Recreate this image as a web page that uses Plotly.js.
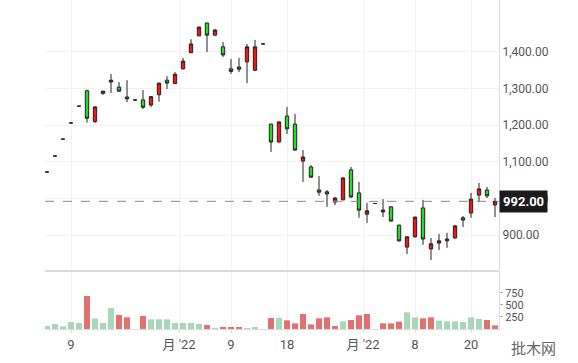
<!DOCTYPE html>
<html><head><meta charset="utf-8">
<script src="https://cdn.plot.ly/plotly-3.0.1.min.js"></script>
<style>html,body{margin:0;padding:0;background:#fff}#chart{width:578px;height:363px}</style>
</head><body><div id="chart"></div>
<script>
// trading-day index for each candle
const days = Array.from({length: 57}, (_, i) => i);
const opens = [1072,1116,1162,1206,1252,1294,1210,1287,1318,1304,1277,1269,1269,1255,1283,1323,1314,1354,1398,1444,1479,1446,1414,1354,1359,1373,1350,1422,1203,1154,1225,1203,1102,1086,1023,1018,990,996,1078,1015,957,986,963,977,927,867,895,974,862,878,884,892,947,960,1009,1023,982];
const highs = [1072,1116,1162,1206,1252,1296,1251,1294,1340,1318,1323,1269,1296,1279,1316,1334,1345,1384,1435,1469,1480,1463,1427,1381,1384,1422,1433,1422,1204,1210,1250,1231,1132,1091,1061,1023,1004,1057,1086,1045,988,986,998,979,928,896,950,996,892,903,906,926,952,1015,1042,1031,1001];
const lows = [1072,1116,1162,1206,1252,1207,1206,1283,1288,1291,1263,1269,1244,1250,1264,1299,1313,1352,1397,1443,1400,1445,1386,1340,1345,1315,1348,1422,1127,1153,1176,1131,1045,1057,1007,977,982,995,1001,947,933,986,949,937,882,848,893,873,832,859,865,890,922,947,990,1001,949];
const closes = [1072,1116,1162,1206,1252,1219,1250,1293,1323,1293,1272,1269,1249,1278,1315,1315,1339,1375,1422,1468,1446,1460,1392,1347,1353,1414,1414,1422,1154,1209,1190,1132,1113,1058,1017,1012,1001,1056,1004,968,966,986,968,938,884,895,949,889,876,884,889,925,941,998,1026,1007,992];
const volumes = [62,104,55,146,125,688,222,125,437,292,243,0,271,201,201,201,125,125,125,104,83,21,42,42,42,21,42,0,229,229,180,118,312,97,222,243,62,160,188,285,312,0,118,118,153,347,243,222,243,174,160,160,146,243,208,188,76];
// 1 = green volume bar, 0 = red volume bar
const volUp = [1,1,1,1,1,0,1,1,1,0,0,1,0,1,1,1,1,1,1,1,0,1,0,0,0,1,1,1,0,1,0,0,0,0,0,0,0,1,0,0,0,1,0,0,0,1,1,0,0,1,1,1,1,1,1,0,0];
const tickPos = [3, 16.5, 23, 30, 39.5, 46, 53];
const tickText = ['9', "月 '22", '9', '18', "月 '22", '8', '20'];
const priceTicks = [900, 1000, 1100, 1200, 1300, 1400];
const volTicks = [250, 500, 750];
const lastPrice = 992;

const candle = {
  type: 'candlestick', x: days, open: opens, high: highs, low: lows, close: closes,
  xaxis: 'x', yaxis: 'y',
  increasing: {line: {color: '#222', width: 1}, fillcolor: '#ff1010'},
  decreasing: {line: {color: '#222', width: 1}, fillcolor: '#22dd22'},
  whiskerwidth: 0, hoverinfo: 'skip'
};
const vol = {
  type: 'bar', x: days, y: volumes, xaxis: 'x', yaxis: 'y2',
  marker: {color: volUp.map(u => u ? '#a6d8b8' : '#e36f6f')},
  hoverinfo: 'skip'
};

const layout = {
  width: 578, height: 363,
  margin: {l: 45, r: 79, t: 0, b: 34},
  paper_bgcolor: '#fff', plot_bgcolor: '#fff',
  showlegend: false,
  bargap: 0.25,
  boxgap: 0.4,
  font: {family: 'Roboto, "Noto Sans CJK SC", sans-serif', size: 12, color: '#555'},
  xaxis: {
    range: [-0.25, 56.5], anchor: 'y2', tickmode: 'array', tickvals: tickPos, ticktext: tickText,
    showgrid: true, gridcolor: '#f2f2f2', showline: true, linecolor: '#ddd',
    ticks: 'outside', ticklen: 3, tickcolor: '#ddd', zeroline: false,
    rangeslider: {visible: false}, tickfont: {size: 13, color: '#555'}
  },
  yaxis: {
    domain: [0.1793, 1], range: [804.4, 1542], side: 'right',
    tickmode: 'array', tickvals: priceTicks, tickformat: ',.2f',
    showgrid: true, gridcolor: '#f2f2f2', showline: true, linecolor: '#ddd',
    ticks: '', zeroline: false, tickfont: {size: 12, color: '#555'}
  },
  yaxis2: {
    domain: [0, 0.1763], range: [0, 1208], side: 'right',
    tickmode: 'array', tickvals: volTicks,
    showgrid: false, showline: true, linecolor: '#ddd',
    ticks: 'outside', ticklen: 3, tickcolor: '#aaa', zeroline: false,
    tickfont: {size: 11, color: '#555'}
  },
  shapes: [
    {type: 'line', xref: 'paper', x0: 0, x1: 1, yref: 'y', y0: lastPrice, y1: lastPrice,
     line: {color: '#888', width: 1, dash: 'dash'}},
    {type: 'line', xref: 'paper', x0: 0, x1: 1, yref: 'paper', y0: 0.1763, y1: 0.1763,
     line: {color: '#ccc', width: 1.5}}
  ],
  annotations: [
    {xref: 'paper', x: 1, xanchor: 'left', yref: 'y', y: lastPrice, yanchor: 'middle',
     text: '<b>' + lastPrice.toFixed(2) + '</b>', showarrow: false,
     bgcolor: '#1c1c1c', borderpad: 3, font: {color: '#fff', size: 13}},
    {xref: 'paper', x: 1.022, xanchor: 'left', yref: 'paper', y: -0.055, yanchor: 'middle',
     text: '批木网', showarrow: false, font: {color: '#666', size: 15, family: '"Noto Sans CJK SC", sans-serif'}}
  ]
};

Plotly.newPlot('chart', [candle, vol], layout, {displayModeBar: false, staticPlot: true});
</script>
</body></html>
